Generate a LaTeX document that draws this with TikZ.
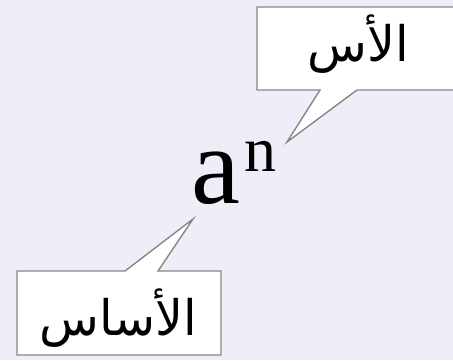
\documentclass[tikz,border=0pt]{standalone}
\usepackage{fontspec}
\setmainfont{Liberation Serif}
\newfontfamily\arabicfont[Script=Arabic]{DejaVu Sans}
\TeXXeTstate=1
\definecolor{bgcol}{RGB}{238,238,248}
\definecolor{edgecol}{RGB}{135,135,135}
\tikzset{
  callout/.style={fill=white, draw=edgecol, line width=1.4pt, line join=miter},
  artext/.style={inner sep=0pt, font=\arabicfont\fontsize{49}{55}\selectfont},
  mathtext/.style={inner sep=0pt, anchor=base west}
}
\begin{document}
\begin{tikzpicture}[x=1pt,y=-1pt]
\useasboundingbox (0,0) rectangle (453,360);
\clip (0,0) rectangle (453,360);
\fill[bgcol] (0,0) rectangle (453,360);
% math
\node[mathtext, font=\fontsize{110}{120}\selectfont] (base) at (191,203) {a};
\node[mathtext, font=\fontsize{64}{70}\selectfont] (power) at (244,171) {n};
% callouts
\coordinate (tipP) at (287,142);
\coordinate (tipB) at (193,219);
\draw[callout] (257,7) -- (465,7) -- (465,90) -- (357,90) -- (tipP) -- (320,90) -- (257,90) -- cycle;
\draw[callout] (17,271) -- (125,271) -- (tipB) -- (158,271) -- (221,271) -- (221,355) -- (17,355) -- cycle;
\node[artext] (lblP) at (358,44) {\beginR الأس\endR};
\node[artext] (lblB) at (118,318) {\beginR الأساس\endR};
\end{tikzpicture}
\end{document}
